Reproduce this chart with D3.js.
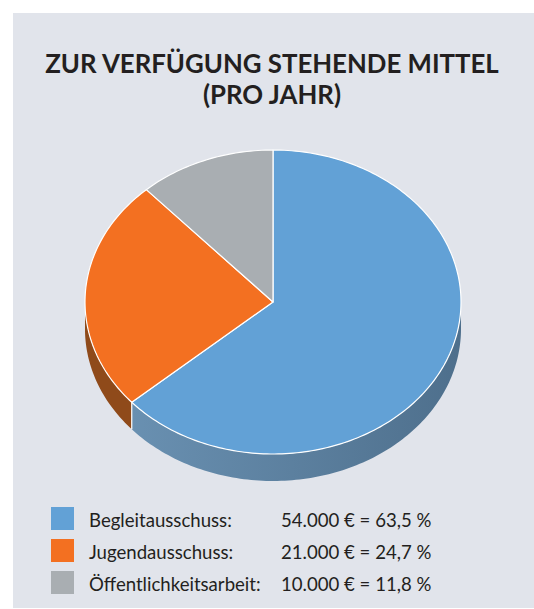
<!DOCTYPE html>
<html>
<head>
<meta charset="utf-8">
<script src="https://cdn.jsdelivr.net/npm/d3@7"></script>
<style>
  html, body { margin: 0; padding: 0; background: #ffffff; }
  svg { display: block; }
  text { font-family: Lato, "Open Sans", sans-serif; fill: #231f20; }
</style>
</head>
<body>
<svg id="chart" width="534" height="609"></svg>
<script>
// chart data
const titleLines = ["ZUR VERFÜGUNG STEHENDE MITTEL", "(PRO JAHR)"];
const categories = ["Begleitausschuss:", "Jugendausschuss:", "Öffentlichkeitsarbeit:"];
const amounts = [54000, 21000, 10000];
const valueLabels = ["54.000 € = 63,5 %", "21.000 € = 24,7 %", "10.000 € = 11,8 %"];
const topColors = ["#62a1d6", "#f37021", "#a9aeb2"];
const sideColors = ["url(#blueSide)", "#8f4a1a", "#7f8387"];

const W = 534, H = 609;
const svg = d3.select("#chart");

// background panel
svg.append("rect")
    .attr("x", 13).attr("y", 13)
    .attr("width", W - 13).attr("height", H - 14)
    .attr("fill", "#e1e4eb");

// gradient for the blue side wall
const defs = svg.append("defs");
const grad = defs.append("linearGradient")
    .attr("id", "blueSide")
    .attr("x1", "0%").attr("x2", "100%").attr("y1", "0%").attr("y2", "0%");
grad.append("stop").attr("offset", "0%").attr("stop-color", "#6990b1");
grad.append("stop").attr("offset", "100%").attr("stop-color", "#4e6f8c");

// title
svg.selectAll("text.title")
    .data(titleLines)
    .join("text")
    .attr("class", "title")
    .attr("x", 272)
    .attr("y", (d, i) => 73 + i * 31)
    .attr("text-anchor", "middle")
    .attr("font-size", 25.8)
    .attr("font-weight", 700)
    .text(d => d);

// pie geometry
const cx = 273, cy = 302, rx = 188, ry = 152, depth = 27;
const pie = d3.pie().sort(null).value(d => d);
const arcs = pie(amounts);

// angle measured clockwise from 12 o'clock
const px = a => cx + rx * Math.sin(a);
const py = a => cy - ry * Math.cos(a);

function sampleAngles(a0, a1) {
    const n = Math.max(2, Math.ceil((a1 - a0) / 0.02));
    return d3.range(n + 1).map(i => a0 + (a1 - a0) * i / n);
}

const line = d3.line();

// side walls (only the front half, between 90° and 270°)
const g = svg.append("g");
arcs.forEach((a, i) => {
    const s = Math.max(a.startAngle, Math.PI / 2);
    const e = Math.min(a.endAngle, 3 * Math.PI / 2);
    if (e <= s) return;
    const angs = sampleAngles(s, e);
    const pts = angs.map(t => [px(t), py(t)])
        .concat(angs.slice().reverse().map(t => [px(t), py(t) + depth]));
    g.append("path")
        .attr("d", line(pts) + "Z")
        .attr("fill", sideColors[i])
        .attr("stroke", "none");
});

// white separators on side wall at visible slice edges
arcs.forEach(a => {
    const t = a.endAngle;
    if (t > Math.PI / 2 && t < 3 * Math.PI / 2) {
        g.append("line")
            .attr("x1", px(t)).attr("y1", py(t))
            .attr("x2", px(t)).attr("y2", py(t) + depth)
            .attr("stroke", "#ffffff").attr("stroke-width", 1.2);
    }
});

// top faces
arcs.forEach((a, i) => {
    const pts = [[cx, cy]].concat(sampleAngles(a.startAngle, a.endAngle).map(t => [px(t), py(t)]));
    g.append("path")
        .attr("d", line(pts) + "Z")
        .attr("fill", topColors[i])
        .attr("stroke", "#ffffff")
        .attr("stroke-width", 1.2)
        .attr("stroke-linejoin", "round");
});

// legend
const legend = svg.append("g");
const rowY = d3.scalePoint().domain(categories).range([507, 571]);
categories.forEach((c, i) => {
    const y = rowY(c);
    legend.append("rect")
        .attr("x", 51).attr("y", y)
        .attr("width", 23).attr("height", 23)
        .attr("fill", topColors[i]);
    legend.append("text")
        .attr("x", 89).attr("y", y + 20)
        .attr("font-size", 18.6)
        .text(c);
    legend.append("text")
        .attr("x", 281).attr("y", y + 20)
        .attr("font-size", 18.6)
        .text(valueLabels[i]);
});
</script>
</body>
</html>
